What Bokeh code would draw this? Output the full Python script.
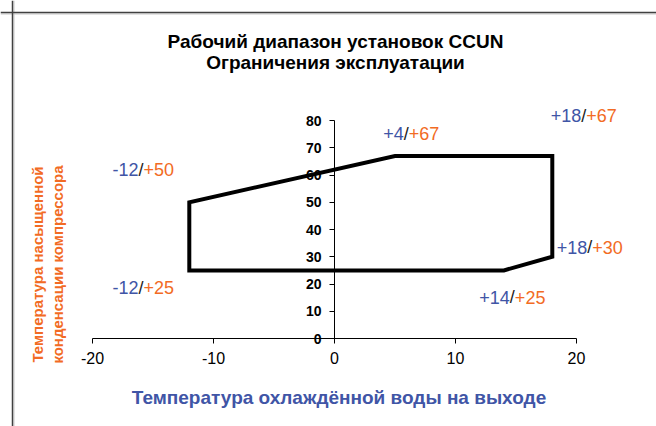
import math
from bokeh.plotting import figure
from bokeh.models import Range1d, FixedTicker, Span, Label, ColumnDataSource
from bokeh.core.properties import value
from bokeh.embed import file_html
from bokeh.resources import INLINE

# ---- data ----
poly_x = [-12, -12, 5, 18, 18, 14]
poly_y = [25, 50, 67, 67, 30, 25]

lbl_left = ["-12", "-12", "+4", "+18", "+18", "+14"]
lbl_right = ["+50", "+25", "+67", "+67", "+30", "+25"]
lbl_x = [-16.0, -16.0, 5.93, 20.6, 21.1, 14.7]
lbl_y = [62.0, 18.7, 75.2, 81.8, 33.5, 15.2]

x_ticks = [-20, -10, 0, 10, 20]
x_tick_labels = ["-20", "-10", "0", "10", "20"]
y_ticks = [0, 10, 20, 30, 40, 50, 60, 70, 80]

title_lines = ["Рабочий диапазон установок CCUN", "Ограничения эксплуатации"]
x_title = "Температура охлаждённой воды на выходе"
y_title_lines = ["Температура насыщенной", "конденсации компрессора"]

BLUE = "#4055A6"
ORANGE = "#F26B24"
FONT = "Liberation Sans"

W, H = 656, 426
# canvas mapping: x=0 -> 334px, 12.1 px/unit ; y=0 -> 338px, 2.725 px/unit
px_x, x0 = 12.1, 334
px_y, y0 = 2.725, 338
x_range = Range1d(-x0 / px_x, (W - x0) / px_x)
y_range = Range1d(-(H - y0) / px_y, y0 / px_y)


def sx(px):
    return (px - x0) / px_x


def sy(py):
    return (y0 - py) / px_y


p = figure(width=W, height=H, x_range=x_range, y_range=y_range,
           output_backend="svg", toolbar_location=None,
           min_border=0, min_border_left=0, min_border_right=0,
           min_border_top=0, min_border_bottom=0)
p.outline_line_color = None
p.grid.visible = False
p.background_fill_color = "white"
p.border_fill_color = "white"

# axes through the origin
xa = p.xaxis[0]
xa.fixed_location = 0
xa.bounds = (-20, 20)
xa.ticker = FixedTicker(ticks=x_ticks)
xa.major_label_overrides = dict(zip(x_ticks, x_tick_labels))
xa.major_tick_in = 0
xa.major_tick_out = 5
xa.minor_tick_line_color = None
xa.axis_line_color = "black"
xa.major_tick_line_color = "black"
xa.major_label_text_font = FONT
xa.major_label_text_font_size = "16px"
xa.major_label_text_color = "black"
xa.major_label_standoff = 8

ya = p.yaxis[0]
ya.fixed_location = 0
ya.bounds = (0, 80)
ya.ticker = FixedTicker(ticks=y_ticks)
ya.major_tick_in = 0
ya.major_tick_out = 5
ya.minor_tick_line_color = None
ya.axis_line_color = "black"
ya.major_tick_line_color = "black"
ya.major_label_text_font = FONT
ya.major_label_text_font_size = "14px"
ya.major_label_text_font_style = "bold"
ya.major_label_text_color = "black"
ya.major_label_standoff = 8

# frame border (left + top visible part)
p.add_layout(Span(location=sx(13.5), dimension="height", line_color="#c8c8c8", line_width=1))
p.add_layout(Span(location=sy(13.5), dimension="width", line_color="#c8c8c8", line_width=1))
p.add_layout(Span(location=sx(12), dimension="height", line_color="#404040", line_width=1.5))
p.add_layout(Span(location=sy(12), dimension="width", line_color="#404040", line_width=1.5))

# operating envelope
p.patch(poly_x, poly_y, fill_alpha=0, line_color="black", line_width=4, line_join="miter")

# corner labels
src = ColumnDataSource(dict(x=lbl_x, y=lbl_y, l=lbl_left, r=lbl_right, s=["/"] * len(lbl_x)))
common = dict(x="x", y="y", source=src, text_font=value(FONT), text_font_size="18px",
              text_baseline="middle")
p.text(text="l", text_color=BLUE, text_align="right", x_offset=-2.5, **common)
p.text(text="s", text_color="#222222", text_align="center", **common)
p.text(text="r", text_color=ORANGE, text_align="left", x_offset=2.5, **common)

# title
for i, t in enumerate(title_lines):
    p.add_layout(Label(x=sx(335), y=sy(41 + 21 * i), text=t, text_font=FONT,
                       text_font_size="19px", text_font_style="bold", text_color="black",
                       text_align="center", text_baseline="middle"))

# x axis title
p.add_layout(Label(x=sx(338.5), y=sy(397), text=x_title, text_font=FONT,
                   text_font_size="19px", text_font_style="bold", text_color=BLUE,
                   text_align="center", text_baseline="middle"))

# y axis title (two rotated lines)
for i, t in enumerate(y_title_lines):
    p.add_layout(Label(x=sx(37 + 20 * i), y=sy(264), text=t, angle=math.pi / 2,
                       text_font=FONT, text_font_size="15px", text_font_style="bold",
                       text_color=ORANGE, text_align="center", text_baseline="middle"))

open("out.html", "w").write(file_html(p, INLINE))
